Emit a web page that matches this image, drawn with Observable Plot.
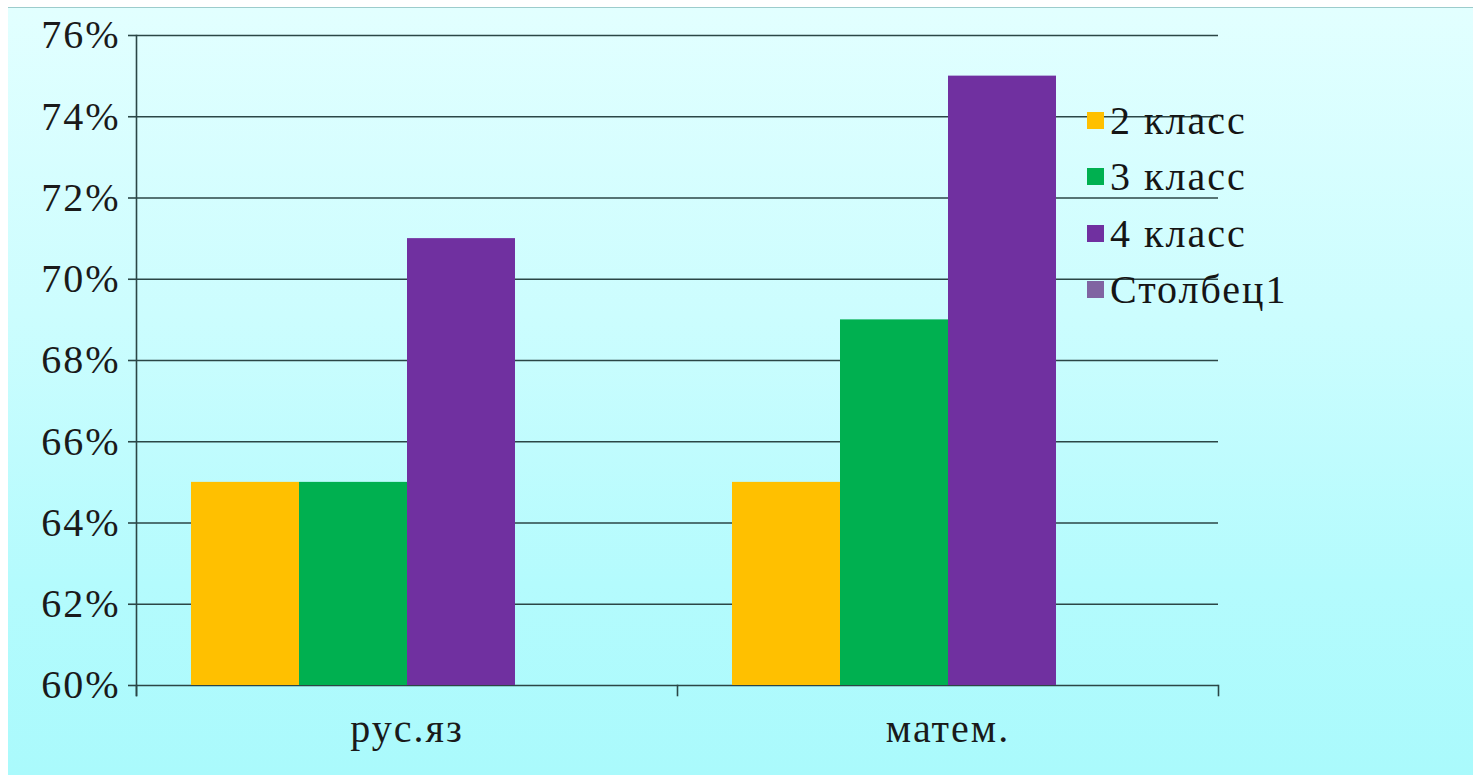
<!DOCTYPE html>
<html>
<head>
<meta charset="utf-8">
<script src="https://cdn.jsdelivr.net/npm/d3@7"></script>
<script src="https://cdn.jsdelivr.net/npm/@observablehq/plot@0.6"></script>
<style>
  html, body { margin: 0; padding: 0; background: #ffffff; }
</style>
</head>
<body>
<div id="bg" style="position:absolute; left:8px; top:7px; width:1465px; height:767px; border-top:1px solid #9ccccc; background:linear-gradient(to bottom, #e2ffff 0%, #ccfdfe 40%, #b4fbfd 75%, #aafafc 100%);">
  <div id="chart"></div>
  <div id="legend" style="position:absolute; left:1079px; top:84px; font-family:'Liberation Serif'; font-size:40px; letter-spacing:2px; color:#151515;"></div>
</div>
<script>
const subjects = ["рус.яз", "матем."];
const series = ["2 класс", "3 класс", "4 класс", "Столбец1"];
const colors = ["#FFC000", "#00B050", "#7030A0", "#8064A2"];
const class2 = [65, 65];
const class3 = [65, 69];
const class4 = [71, 75];
const yTicks = [60, 62, 64, 66, 68, 70, 72, 74, 76];

const values = [class2, class3, class4];
const data = subjects.flatMap((s, i) =>
  values.map((arr, j) => ({subject: s, series: series[j], value: arr[i]}))
);

const lineColor = "#2b4646";

const chart = Plot.plot({
  width: 1465,
  height: 767,
  marginLeft: 128,
  marginRight: 255,
  marginTop: 27,
  marginBottom: 90,
  style: "background: transparent; font-family: 'Liberation Serif'; font-size: 40px; letter-spacing: 2px; color: #1a1a1a;",
  fx: {domain: subjects, padding: 0},
  x: {domain: series, paddingInner: 0, paddingOuter: 0.5, axis: null},
  y: {domain: [60, 76]},
  color: {domain: series, range: colors},
  marks: [
    Plot.gridY(yTicks, {stroke: lineColor, strokeOpacity: 1, strokeWidth: 1.6}),
    Plot.barY(data, {fx: "subject", x: "series", y1: 60, y2: "value", fill: "series"}),
    Plot.frame({anchor: "left", facetAnchor: "left", insetBottom: -10, stroke: lineColor, strokeWidth: 1.6}),
    Plot.frame({anchor: "left", insetTop: 650, insetBottom: -10, stroke: lineColor, strokeWidth: 1.6}),
    Plot.frame({anchor: "right", facetAnchor: "right", insetTop: 650, insetBottom: -10, stroke: lineColor, strokeWidth: 1.6}),
    Plot.axisY(yTicks, {tickSize: 8, tickPadding: 8, tickFormat: d => d + "%", stroke: lineColor, strokeWidth: 1.6, label: null}),
    Plot.axisFx({anchor: "bottom", tickSize: 0, tickPadding: 28, label: null})
  ]
});
document.getElementById("chart").appendChild(chart);

const legend = document.getElementById("legend");
series.forEach((s, i) => {
  const row = document.createElement("div");
  row.style.cssText = "display:flex; align-items:center; height:56.5px;";
  const sw = document.createElement("div");
  sw.style.cssText = "width:17px; height:17px; margin-right:6px; background:" + colors[i] + ";";
  const t = document.createElement("span");
  t.textContent = s;
  row.appendChild(sw);
  row.appendChild(t);
  legend.appendChild(row);
});
</script>
</body>
</html>
